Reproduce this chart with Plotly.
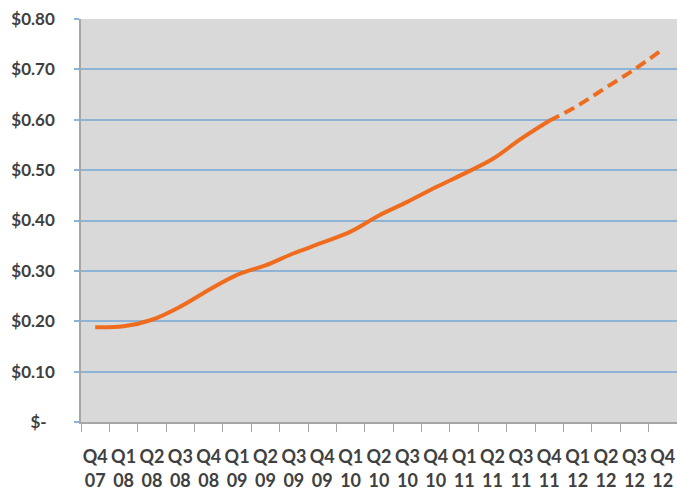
import plotly.graph_objects as go

quarters = ["Q4","Q1","Q2","Q3","Q4","Q1","Q2","Q3","Q4","Q1","Q2","Q3","Q4","Q1","Q2","Q3","Q4","Q1","Q2","Q3","Q4"]
years = ["07","08","08","08","08","09","09","09","09","10","10","10","10","11","11","11","11","12","12","12","12"]
actual = [0.188, 0.190, 0.203, 0.229, 0.262, 0.292, 0.311, 0.335, 0.356, 0.378, 0.410, 0.437, 0.466, 0.493, 0.522, 0.562, 0.598]
forecast = [0.598, 0.628, 0.664, 0.700, 0.740]
y_ticks = [0, 0.1, 0.2, 0.3, 0.4, 0.5, 0.6, 0.7, 0.8]
y_labels = ["$-\u00a0\u00a0", "$0.10", "$0.20", "$0.30", "$0.40", "$0.50", "$0.60", "$0.70", "$0.80"]

n = len(quarters)
idx = list(range(n))
cat_labels = [f"{q}<br>{y}" for q, y in zip(quarters, years)]

orange = "#EF6C1F"
fig = go.Figure()
fig.add_trace(go.Scatter(x=idx[:len(actual)], y=actual, mode="lines",
                         line=dict(color=orange, width=4, shape="spline"), showlegend=False))
fig.add_trace(go.Scatter(x=idx[len(actual)-1:], y=forecast, mode="lines",
                         line=dict(color=orange, width=4, shape="spline", dash="11px,6px"), showlegend=False))

yfont = dict(family="Lato", size=17, color="#404040", weight="bold")
xfont = dict(family="Lato", size=18, color="#404040", weight="bold")
fig.update_layout(
    width=677, height=491,
    margin=dict(l=81, r=0, t=19, b=67),
    paper_bgcolor="white", plot_bgcolor="#D9D9D9",
    xaxis=dict(range=[-0.5, n - 0.5], tickvals=idx, ticktext=cat_labels, ticks="",
               showgrid=False, zeroline=False, showline=True, linecolor="#A6A6A6", linewidth=1.5,
               tickfont=xfont, ticklabelstandoff=18,
               minor=dict(tickvals=[i - 0.5 for i in range(n + 1)], ticks="outside",
                          ticklen=8, tickcolor="#A6A6A6", tickwidth=1, showgrid=False)),
    yaxis=dict(range=[0, 0.8], tickvals=y_ticks, ticktext=y_labels, showgrid=True,
               gridcolor="#8DB4D6", gridwidth=2, zeroline=False, showline=True,
               linecolor="#A6A6A6", linewidth=1.5, ticks="outside", ticklen=5,
               tickcolor="#8DB4D6", tickwidth=2, tickfont=yfont, ticklabelstandoff=16),
)
fig.write_html("out.html")
